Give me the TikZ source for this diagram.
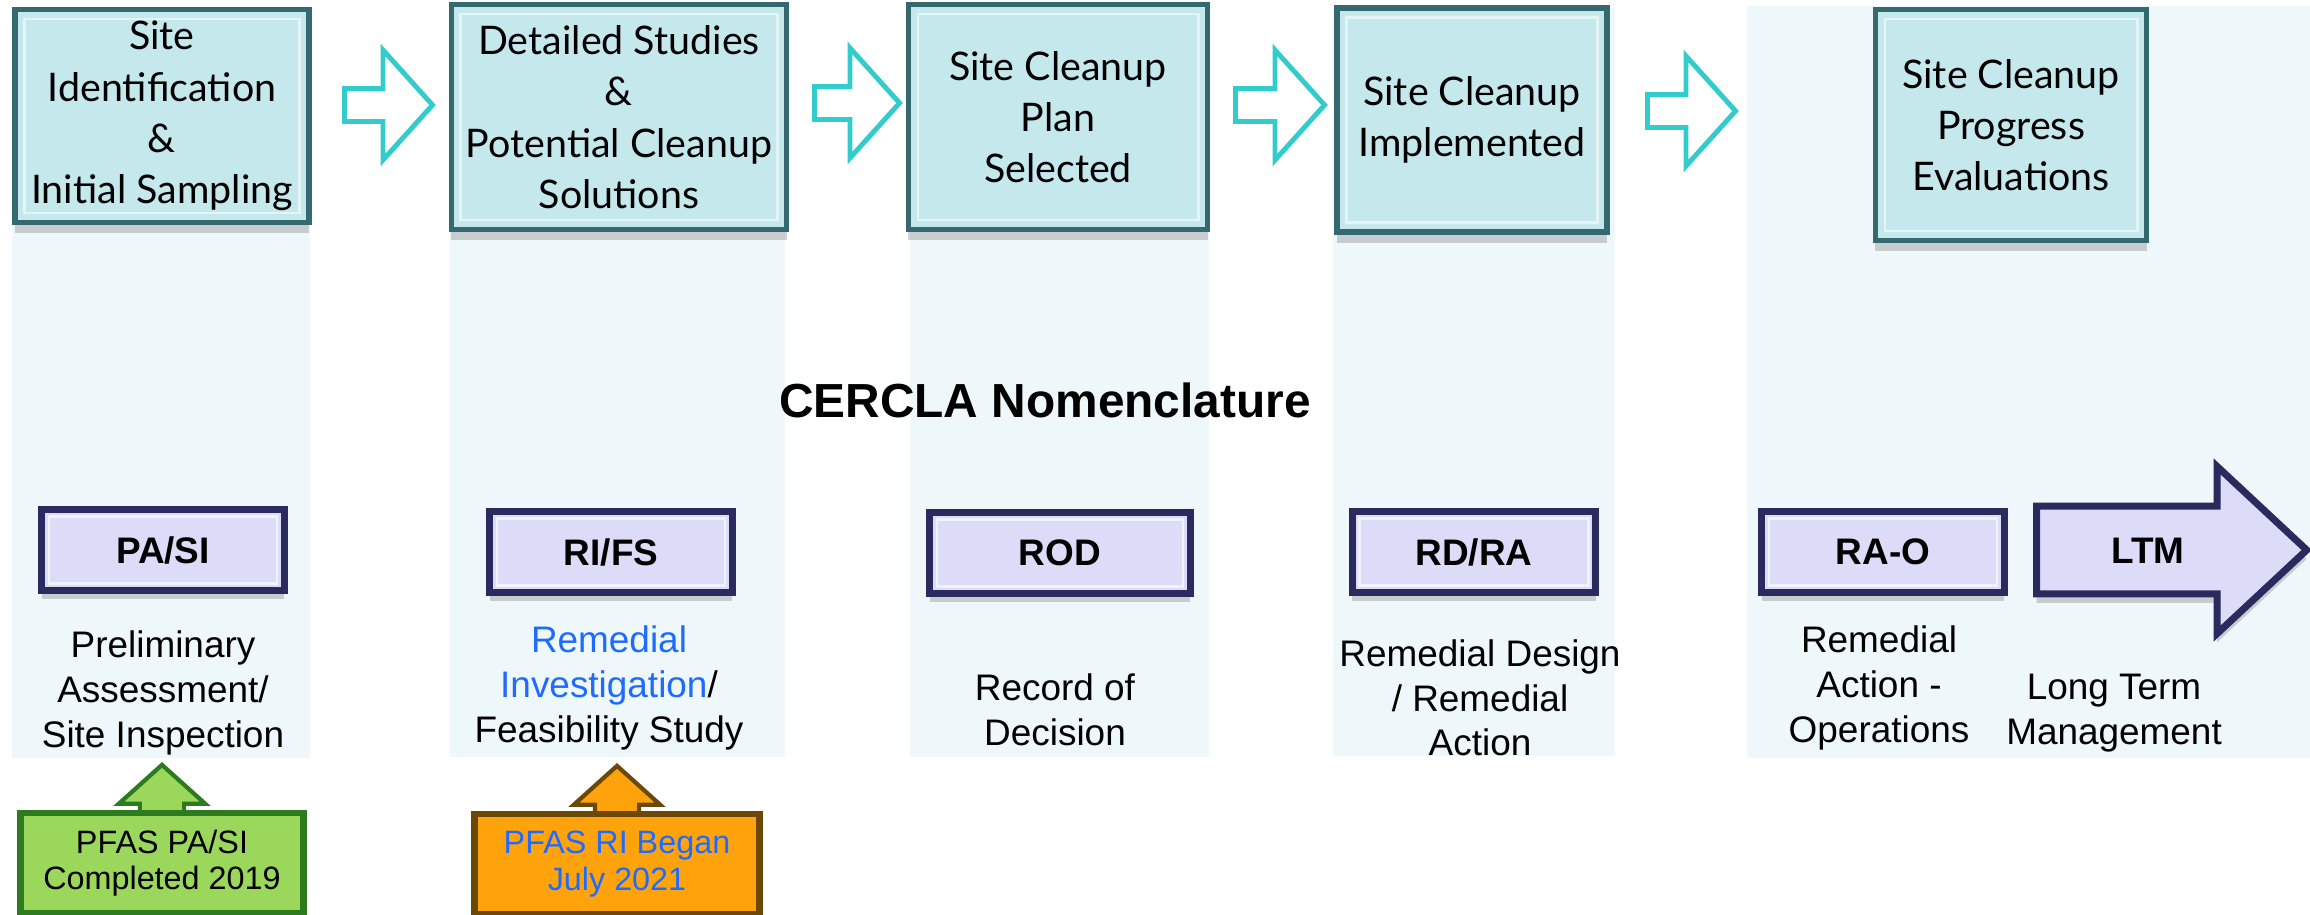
\documentclass[tikz,border=0pt]{standalone}
\usepackage{fontspec}
\setmainfont{Liberation Sans}
\newfontfamily\gillfont{Lato}
\usetikzlibrary{shapes.arrows,shadows}

\definecolor{colbg}{HTML}{EEF7F9}
\definecolor{tealfill}{HTML}{C4E8EC}
\definecolor{tealedge}{HTML}{33696F}
\definecolor{tealhi}{HTML}{E4F5F7}
\definecolor{flowcyan}{HTML}{33CCCC}
\definecolor{lavfill}{HTML}{DCDCF8}
\definecolor{navyedge}{HTML}{2A2A5E}
\definecolor{lavline}{HTML}{F2F2FF}
\definecolor{greenfill}{HTML}{9BD75B}
\definecolor{greenedge}{HTML}{2E7A1E}
\definecolor{orangefill}{HTML}{FFA30C}
\definecolor{orangeedge}{HTML}{6B4806}
\definecolor{linkblue}{HTML}{1F6BFF}

\tikzset{
  stagebox/.style={draw=tealedge, line width=1.6pt, fill=tealfill, align=center, inner sep=0pt,
    font=\gillfont\fontsize{11.2}{14.6}\selectfont,
    drop shadow={shadow xshift=0pt, shadow yshift=-3pt, opacity=0.35}},
  flowarrow/.style={single arrow, draw=flowcyan, line width=1.4pt, fill=white, inner sep=0.14cm,
    single arrow head extend=0.385cm, single arrow tip angle=96, anchor=tail},
  milebox/.style={draw=navyedge, line width=2pt, fill=lavfill, inner sep=0pt,
    font=\bfseries\fontsize{10.5}{12}\selectfont, minimum width=2.42cm, minimum height=0.81cm,
    drop shadow={shadow xshift=0pt, shadow yshift=-2.5pt, opacity=0.35}},
  ltmarrow/.style={single arrow, draw=navyedge, line width=2pt, fill=lavfill,
    font=\bfseries\fontsize{10.5}{12}\selectfont, text height=7.6pt, text depth=0pt,
    inner ysep=7.7pt, single arrow head extend=0.395cm, single arrow tip angle=86,
    minimum height=2.7cm, anchor=tail,
    drop shadow={shadow xshift=0pt, shadow yshift=-2.5pt, opacity=0.35}},
  desc/.style={align=center, inner sep=0pt, font=\fontsize{10.5}{12.7}\selectfont},
  statusbox/.style={line width=1.8pt, align=center, inner sep=0pt, minimum height=1.0cm,
    font=\fontsize{9.2}{10.4}\selectfont},
  uparrow/.style={single arrow, rotate=90, line width=1.2pt, inner sep=0.2cm,
    single arrow head extend=0.21cm, single arrow tip angle=96, minimum height=0.8cm, anchor=tip}
}

\begin{document}
\begin{tikzpicture}[x=0.01cm, y=-0.01cm]
\useasboundingbox (0,0) rectangle (2310,914);
% column backgrounds
\fill[colbg] (12,8) rectangle (310,758);
\fill[colbg] (450,5) rectangle (785,757);
\fill[colbg] (910,5) rectangle (1209,757);
\fill[colbg] (1333,8) rectangle (1615,756);
\fill[colbg] (1747,6) rectangle (2310,758);

% cleanup stages
\node[stagebox, minimum width=2.94cm, minimum height=2.13cm] (ident) at (162,116) {Site\\Identification\\\&\\Initial Sampling};
\node[stagebox, minimum width=3.35cm, minimum height=2.25cm] (study) at (619,117) {Detailed Studies\\\&\\Potential Cleanup\\Solutions};
\node[stagebox, minimum width=2.99cm, minimum height=2.25cm] (plan) at (1058,117) {Site Cleanup\\Plan\\Selected};
\node[stagebox, minimum width=2.70cm, minimum height=2.24cm] (impl) at (1472,120) {Site Cleanup\\Implemented};
\node[stagebox, minimum width=2.71cm, minimum height=2.31cm] (evalu) at (2011,125) {Site Cleanup\\Progress\\Evaluations};
\foreach \n in {ident,study,plan,impl,evalu}
  \draw[tealhi, line width=0.8pt] ([xshift=3.5pt,yshift=-3.5pt]\n.north west) rectangle ([xshift=-3.5pt,yshift=3.5pt]\n.south east);

\node[flowarrow, minimum height=0.88cm] (f1) at (342,105) {};
\node[flowarrow, minimum height=0.85cm] (f2) at (812,103) {};
\node[flowarrow, minimum height=0.89cm] (f3) at (1233,105) {};
\node[flowarrow, minimum height=0.88cm] (f4) at (1645,111) {};

\node[font=\bfseries\fontsize{13.6}{16}\selectfont] (cercla) at (1045,400) {CERCLA Nomenclature};

% CERCLA steps
\node[milebox] (pasi) at (163,550) {PA/SI};
\node[milebox] (rifs) at (611,552) {RI/FS};
\node[milebox, minimum width=2.60cm] (rod) at (1060,553) {ROD};
\node[milebox, minimum width=2.43cm] (rdra) at (1474,552) {RD/RA};
\node[milebox] (rao) at (1883,552) {RA-O};
\foreach \n in {pasi,rifs,rod,rdra,rao}
  \draw[lavline, line width=0.8pt] ([xshift=3pt,yshift=-3pt]\n.north west) rectangle ([xshift=-3pt,yshift=3pt]\n.south east);
\node[ltmarrow] (ltm) at (2033,550) {LTM};

\node[desc] (pasitxt) at (163,693) {Preliminary\\Assessment/\\Site Inspection};
\node[desc] (rifstxt) at (609,688) {\textcolor{linkblue}{Remedial}\\\textcolor{linkblue}{Investigation}/\\Feasibility Study};
\node[desc] (rodtxt) at (1055,710) {Record of\\Decision};
\node[desc] (rdratxt) at (1480,698) {Remedial Design\\/ Remedial\\Action};
\node[desc] (raotxt) at (1879,688) {Remedial\\Action -\\Operations};
\node[desc] (ltmtxt) at (2114,713) {Long Term\\Management};

% PFAS status
\node[uparrow, fill=greenfill, draw=greenedge] (pasiup) at (162,762) {};
\node[uparrow, fill=orangefill, draw=orangeedge] (rifsup) at (617,763) {};
\node[statusbox, fill=greenfill, draw=greenedge, minimum width=2.83cm] (pasidone) at (162,863) {PFAS PA/SI\\Completed 2019};
\node[statusbox, fill=orangefill, draw=orangeedge, minimum width=2.85cm, text=linkblue] (ribegan) at (617,864) {PFAS RI Began\\July 2021};
\end{tikzpicture}
\end{document}
